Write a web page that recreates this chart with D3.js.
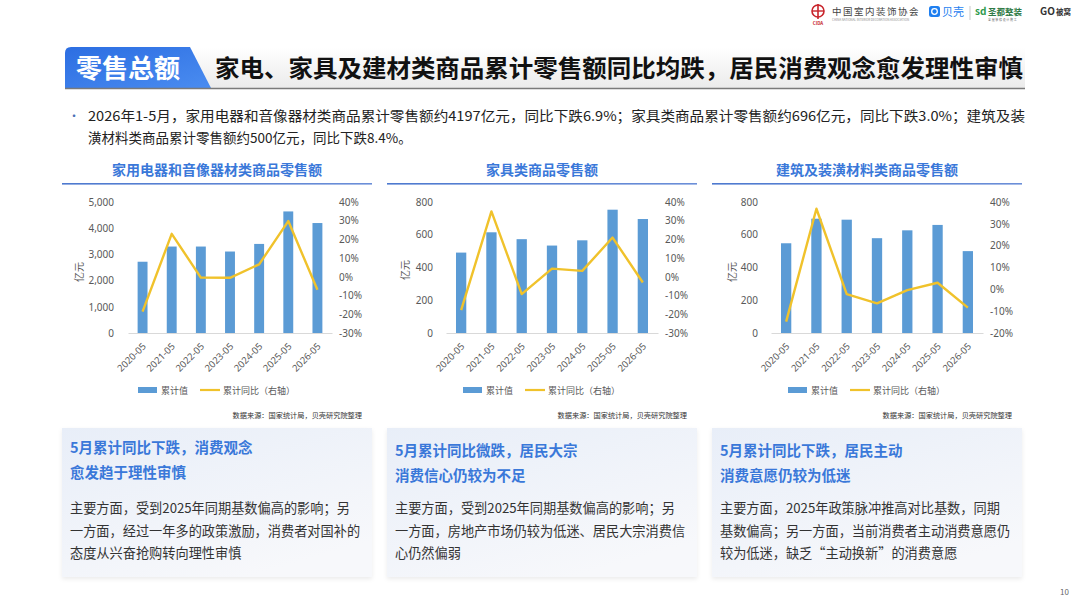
<!DOCTYPE html>
<html>
<head>
<meta charset="utf-8">
<script src="https://cdn.jsdelivr.net/npm/d3@7"></script>
<style>
  html, body { margin: 0; padding: 0; background: #fff; }
  svg { display: block; font-family: "Noto Sans CJK SC", "Noto Sans", sans-serif; }
</style>
</head>
<body>
<div id="page"></div>
<script>
// ---- data ----
var years = ["2020-05", "2021-05", "2022-05", "2023-05", "2024-05", "2025-05", "2026-05"];

var applianceTotal = [2720, 3300, 3300, 3110, 3400, 4640, 4197];
var applianceYoY   = [-18.6, 23.0, -0.4, -0.5, 6.7, 29.8, -6.9];

var furnitureTotal = [491, 615, 573, 534, 566, 753, 696];
var furnitureYoY   = [-17.8, 35.0, -9.2, 4.4, 3.2, 21.0, -3.0];

var buildingTotal  = [548, 698, 692, 579, 627, 660, 500];
var buildingYoY    = [-14.8, 36.9, -2.2, -6.4, -0.4, 3.0, -8.4];

var ticks5000  = [0, 1000, 2000, 3000, 4000, 5000];
var ticks800   = [0, 200, 400, 600, 800];
var pctTicksA  = [-30, -20, -10, 0, 10, 20, 30, 40];
var pctTicksB  = [-20, -10, 0, 10, 20, 30, 40];

var chartTitles = ["家用电器和音像器材类商品零售额", "家具类商品零售额", "建筑及装潢材料类商品零售额"];
var legendLabels = ["累计值", "累计同比（右轴）"];
var sourceNote = "数据来源：国家统计局，贝壳研究院整理";

var headlines = [
  ["5月累计同比下跌，消费观念", "愈发趋于理性审慎"],
  ["5月累计同比微跌，居民大宗", "消费信心仍较为不足"],
  ["5月累计同比下跌，居民主动", "消费意愿仍较为低迷"]
];
var bodies = [
  ["主要方面，受到2025年同期基数偏高的影响；另", "一方面，经过一年多的政策激励，消费者对国补的", "态度从兴奋抢购转向理性审慎"],
  ["主要方面，受到2025年同期基数偏高的影响；另", "一方面，房地产市场仍较为低迷、居民大宗消费信", "心仍然偏弱"],
  ["主要方面，2025年政策脉冲推高对比基数，同期", "基数偏高；另一方面，当前消费者主动消费意愿仍", "较为低迷，缺乏“主动换新”的消费意愿"]
];

var W = 1080, H = 608;
var BLUE = "#5b9bd5", GOLD = "#f0c22b", TITLEBLUE = "#3a78d9";

var svg = d3.select("#page").append("svg").attr("width", W).attr("height", H);
var defs = svg.append("defs");

var g1 = defs.append("linearGradient").attr("id", "tabGrad").attr("x1", 0).attr("y1", 0).attr("x2", 1).attr("y2", 1);
g1.append("stop").attr("offset", "0%").attr("stop-color", "#2c6ee2");
g1.append("stop").attr("offset", "100%").attr("stop-color", "#4a8cf0");

var g2 = defs.append("linearGradient").attr("id", "barGrad").attr("x1", 0).attr("y1", 0).attr("x2", 0).attr("y2", 1);
g2.append("stop").attr("offset", "0%").attr("stop-color", "#ffffff");
g2.append("stop").attr("offset", "100%").attr("stop-color", "#ebebeb");

var g3 = defs.append("linearGradient").attr("id", "boxGrad").attr("x1", 0).attr("y1", 0).attr("x2", 0.6).attr("y2", 1);
g3.append("stop").attr("offset", "0%").attr("stop-color", "#e8eef8");
g3.append("stop").attr("offset", "100%").attr("stop-color", "#f7f8fb");

var g4 = defs.append("linearGradient").attr("id", "ruleGrad").attr("x1", 0).attr("y1", 0).attr("x2", 1).attr("y2", 0);
g4.append("stop").attr("offset", "0%").attr("stop-color", "#4d79cf");
g4.append("stop").attr("offset", "100%").attr("stop-color", "#6c8fd8");

var sh = defs.append("filter").attr("id", "shadow").attr("x", "-5%").attr("y", "-5%").attr("width", "110%").attr("height", "115%");
sh.append("feDropShadow").attr("dx", 0).attr("dy", 2).attr("stdDeviation", 2).attr("flood-color", "#000").attr("flood-opacity", 0.08);

// ---- logos (top right) ----
var logo = svg.append("g");
logo.append("circle").attr("cx", 818).attr("cy", 11).attr("r", 6).attr("fill", "none").attr("stroke", "#c8242b").attr("stroke-width", 1.6);
logo.append("line").attr("x1", 818).attr("x2", 818).attr("y1", 4).attr("y2", 19).attr("stroke", "#c8242b").attr("stroke-width", 1.6);
logo.append("line").attr("x1", 812).attr("x2", 824).attr("y1", 11).attr("y2", 11).attr("stroke", "#c8242b").attr("stroke-width", 1.4);
logo.append("text").attr("x", 818).attr("y", 25).attr("text-anchor", "middle").attr("font-size", 4.5).attr("font-weight", "bold").attr("fill", "#c8242b").text("CIDA");
logo.append("text").attr("x", 832).attr("y", 15).attr("font-size", 9.5).attr("fill", "#444").attr("letter-spacing", 1.5).text("中国室内装饰协会");
logo.append("text").attr("x", 832).attr("y", 21).attr("font-size", 3).attr("fill", "#888").text("CHINA NATIONAL INTERIOR DECORATION ASSOCIATION");
logo.append("rect").attr("x", 929).attr("y", 6).attr("width", 11).attr("height", 11).attr("rx", 2.5).attr("fill", "#1f7ff0");
logo.append("circle").attr("cx", 934.5).attr("cy", 11.5).attr("r", 2.8).attr("fill", "none").attr("stroke", "#fff").attr("stroke-width", 1.3);
logo.append("text").attr("x", 942).attr("y", 16).attr("font-size", 11).attr("fill", "#1f7ff0").text("贝壳");
logo.append("line").attr("x1", 970).attr("x2", 970).attr("y1", 6).attr("y2", 20).attr("stroke", "#bbb").attr("stroke-width", 0.8);
logo.append("text").attr("x", 975).attr("y", 15).attr("font-size", 10).attr("font-weight", "bold").attr("fill", "#2f9a4c").text("sd");
logo.append("text").attr("x", 988).attr("y", 14.5).attr("font-size", 8.5).attr("font-weight", "bold").attr("fill", "#2f7a45").text("圣都整装");
logo.append("text").attr("x", 988).attr("y", 21).attr("font-size", 3).attr("fill", "#666").text("全 屋 装 修 设 计 施 工");
logo.append("text").attr("x", 1040).attr("y", 15).attr("font-size", 10).attr("font-weight", "bold").attr("fill", "#333").text("GO");
logo.append("text").attr("x", 1056).attr("y", 14.5).attr("font-size", 7.5).attr("font-weight", "bold").attr("fill", "#333").text("被窝");

// ---- title bar ----
svg.append("rect").attr("x", 65).attr("y", 47).attr("width", 960).attr("height", 41).attr("fill", "url(#barGrad)");
svg.append("path").attr("d", "M65,88 L65,53 Q65,47 71,47 L190,47 L211,88 Z").attr("fill", "url(#tabGrad)");
svg.append("line").attr("x1", 65).attr("x2", 1025).attr("y1", 88.5).attr("y2", 88.5).attr("stroke", "#7a7a7a").attr("stroke-width", 1.6);
svg.append("text").attr("x", 128).attr("y", 78).attr("text-anchor", "middle").attr("font-size", 26).attr("font-weight", "bold").attr("fill", "#fff").text("零售总额");
svg.append("text").attr("x", 215).attr("y", 77).attr("font-size", 24).attr("font-weight", "bold").attr("fill", "#111")
  .attr("textLength", 808).attr("lengthAdjust", "spacingAndGlyphs")
  .text("家电、家具及建材类商品累计零售额同比均跌，居民消费观念愈发理性审慎");

// ---- summary bullet ----
svg.append("text").attr("x", 68).attr("y", 121).attr("font-size", 12).attr("fill", "#4a6fb5").text("•");
svg.append("text").attr("x", 88).attr("y", 121).attr("font-size", 13.5).attr("fill", "#222")
  .attr("textLength", 937).attr("lengthAdjust", "spacingAndGlyphs")
  .text("2026年1-5月，家用电器和音像器材类商品累计零售额约4197亿元，同比下跌6.9%；家具类商品累计零售额约696亿元，同比下跌3.0%；建筑及装");
svg.append("text").attr("x", 88).attr("y", 143).attr("font-size", 13.5).attr("fill", "#222")
  .text("潢材料类商品累计零售额约500亿元，同比下跌8.4%。");

// ---- the three charts ----
var panels = [
  { x0: 62,  title: chartTitles[0], totals: applianceTotal, yoy: applianceYoY, lTicks: ticks5000, lMax: 5000, pTicks: pctTicksA, pMin: -30,
    plotL: 128, plotR: 332, lblR: 114, unitX: 79, unitY: 272 },
  { x0: 387, title: chartTitles[1], totals: furnitureTotal, yoy: furnitureYoY, lTicks: ticks800, lMax: 800, pTicks: pctTicksA, pMin: -30,
    plotL: 446, plotR: 658, lblR: 433, unitX: 405, unitY: 270 },
  { x0: 712, title: chartTitles[2], totals: buildingTotal, yoy: buildingYoY, lTicks: ticks800, lMax: 800, pTicks: pctTicksB, pMin: -20,
    plotL: 771, plotR: 983, lblR: 758, unitX: 732, unitY: 272 }
];

var plotTop = 202, plotBottom = 333, panelW = 310;

panels.forEach(function(p, i) {
  var g = svg.append("g");
  var cx = p.x0 + panelW / 2;

  g.append("text").attr("x", cx).attr("y", 175).attr("text-anchor", "middle")
    .attr("font-size", 14).attr("font-weight", "bold").attr("fill", TITLEBLUE).text(p.title);
  g.append("rect").attr("x", p.x0).attr("y", 183).attr("width", panelW).attr("height", 1.6).attr("fill", "url(#ruleGrad)");

  var x = d3.scaleBand().domain(years).range([p.plotL, p.plotR]).paddingInner(0.66).paddingOuter(0.33);
  var yL = d3.scaleLinear().domain([0, p.lMax]).range([plotBottom, plotTop]);
  var yR = d3.scaleLinear().domain([p.pMin, 40]).range([plotBottom, plotTop]);

  // bars
  g.selectAll("rect.bar").data(p.totals).enter().append("rect").attr("class", "bar")
    .attr("x", function(d, j) { return x(years[j]); })
    .attr("width", x.bandwidth())
    .attr("y", function(d) { return yL(d); })
    .attr("height", function(d) { return plotBottom - yL(d); })
    .attr("fill", BLUE);

  // x axis
  var xa = g.append("g").attr("transform", "translate(0," + plotBottom + ")")
    .call(d3.axisBottom(x).tickSize(0).tickPadding(0));
  xa.select(".domain").attr("stroke", "#d9d9d9").attr("stroke-width", 1);
  xa.selectAll("text").attr("font-size", 9.5).attr("fill", "#595959")
    .attr("font-family", "\"Noto Sans\", sans-serif")
    .attr("text-anchor", "end").attr("dy", null)
    .attr("transform", "translate(4,14) rotate(-45)");

  // left axis
  var la = g.append("g").attr("transform", "translate(" + p.lblR + ",0)")
    .call(d3.axisLeft(yL).tickValues(p.lTicks).tickSize(0).tickPadding(0).tickFormat(d3.format(",")));
  la.select(".domain").remove();
  la.selectAll("text").attr("font-size", 10).attr("fill", "#595959").attr("font-family", "\"Noto Sans\", sans-serif");

  // right axis
  var ra = g.append("g").attr("transform", "translate(" + (p.plotR + 7) + ",0)")
    .call(d3.axisRight(yR).tickValues(p.pTicks).tickSize(0).tickPadding(0).tickFormat(function(d) { return d + "%"; }));
  ra.select(".domain").remove();
  ra.selectAll("text").attr("font-size", 10).attr("fill", "#595959").attr("font-family", "\"Noto Sans\", sans-serif");

  g.append("text").attr("transform", "translate(" + p.unitX + "," + p.unitY + ") rotate(-90)")
    .attr("text-anchor", "middle").attr("dy", "0.35em").attr("font-size", 10).attr("fill", "#595959").text("亿元");

  // yoy line
  var line = d3.line()
    .x(function(d, j) { return x(years[j]) + x.bandwidth() / 2; })
    .y(function(d) { return yR(d); });
  g.append("path").datum(p.yoy).attr("d", line).attr("fill", "none")
    .attr("stroke", GOLD).attr("stroke-width", 2.4).attr("stroke-linejoin", "round");

  // legend
  var lx = p.x0 + 76;
  g.append("rect").attr("x", lx).attr("y", 387).attr("width", 19).attr("height", 6).attr("fill", BLUE);
  g.append("text").attr("x", lx + 23).attr("y", 393.5).attr("font-size", 9).attr("fill", "#595959").text(legendLabels[0]);
  g.append("line").attr("x1", lx + 62).attr("x2", lx + 82).attr("y1", 390).attr("y2", 390).attr("stroke", GOLD).attr("stroke-width", 2.2);
  g.append("text").attr("x", lx + 85).attr("y", 393.5).attr("font-size", 9).attr("fill", "#595959").text(legendLabels[1]);

  g.append("text").attr("x", p.x0 + 300).attr("y", 418).attr("text-anchor", "end")
    .attr("font-size", 7.2).attr("fill", "#333").text(sourceNote);

  // comment box
  var by = 428, bh = 149;
  g.append("rect").attr("x", p.x0).attr("y", by).attr("width", panelW).attr("height", bh)
    .attr("fill", "url(#boxGrad)").attr("filter", "url(#shadow)");
  var hy = i === 0 ? 453 : 456;
  headlines[i].forEach(function(t, k) {
    g.append("text").attr("x", p.x0 + 8).attr("y", hy + k * 25).attr("font-size", 14.5)
      .attr("font-weight", "bold").attr("fill", TITLEBLUE).text(t);
  });
  bodies[i].forEach(function(t, k) {
    g.append("text").attr("x", p.x0 + 8).attr("y", 513 + k * 22.5).attr("font-size", 13.2)
      .attr("fill", "#333").text(t);
  });
});

svg.append("text").attr("x", 1069).attr("y", 595).attr("text-anchor", "end").attr("font-size", 8).attr("fill", "#666").text("10");
</script>
</body>
</html>
